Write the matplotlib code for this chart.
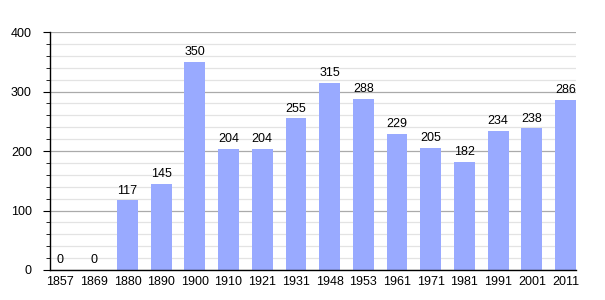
import matplotlib.pyplot as plt
from matplotlib.ticker import MultipleLocator

plt.rcParams['font.family'] = ['Liberation Sans', 'DejaVu Sans']

years = ['1857', '1869', '1880', '1890', '1900', '1910', '1921', '1931',
         '1948', '1953', '1961', '1971', '1981', '1991', '2001', '2011']
population = [0, 0, 117, 145, 350, 204, 204, 255, 315, 288, 229, 205, 182, 234, 238, 286]

fig = plt.figure(figsize=(6.05, 3.0), dpi=100)
ax = fig.add_axes([0.0826, 0.1, 0.8694, 0.7933])

x = range(len(years))
ax.bar(x, population, width=0.62, color='#99aaff', zorder=2)
for i, v in enumerate(population):
    ax.text(i, v + 6, str(v), ha='center', va='bottom', fontsize=9, color='black')

ax.set_xlim(-0.3, len(years) - 1 + 0.31)
ax.set_ylim(0, 400)
ax.set_xticks(list(x))
ax.set_xticklabels(years)
ax.yaxis.set_major_locator(MultipleLocator(100))
ax.yaxis.set_minor_locator(MultipleLocator(20))
ax.grid(axis='y', which='major', color='#aaaaaa', linewidth=0.9, zorder=0)
ax.grid(axis='y', which='minor', color='#e3e3e3', linewidth=0.9, zorder=0)
ax.set_axisbelow(True)

for s in ['top', 'right']:
    ax.spines[s].set_visible(False)
ax.spines['left'].set_linewidth(1.0)
ax.spines['bottom'].set_linewidth(1.0)
ax.tick_params(axis='x', length=0, labelsize=9, pad=4)
ax.tick_params(axis='y', which='major', length=5, labelsize=9, pad=8)
ax.tick_params(axis='y', which='minor', length=3)

fig.savefig('out.png', dpi=100)
